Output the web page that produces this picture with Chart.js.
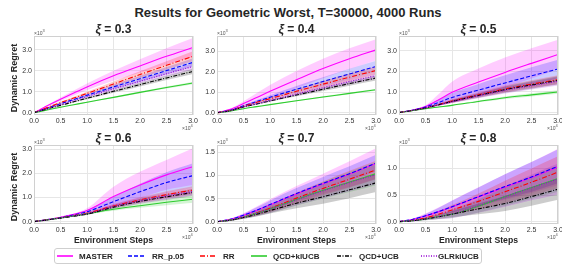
<!DOCTYPE html>
<html>
<head>
<meta charset="utf-8">
<script src="https://cdn.jsdelivr.net/npm/chart.js@4.4.0/dist/chart.umd.min.js"></script>
<style>
  body { margin: 0; width: 562px; height: 269px; background: #fff; position: relative; overflow: hidden;
         font-family: "Liberation Sans", Arial, sans-serif; color: #262626; }
  canvas { position: absolute; }
  .txt { position: absolute; white-space: nowrap; line-height: 1; }
  .c { transform: translate(-50%, -50%); }
  .title { font-size: 13px; font-weight: bold; }
  .sub { font-size: 12px; font-weight: bold; }
  .lab { font-size: 8.7px; font-weight: bold; }
  .ylab { font-size: 9px; font-weight: bold; transform: translate(-50%, -50%) rotate(-90deg); }
  .mult { font-size: 5px; color: #555; }
  #legend { position: absolute; left: 54px; top: 248px; width: 426px; height: 14px;
            border: 1px solid #cfcfcf; border-radius: 3px; background: #fff; }
  .lg { position: absolute; font-size: 8px; font-weight: bold; top: 256px; transform: translateY(-50%); white-space: nowrap; }
  .ls { position: absolute; top: 253px; }
</style>
</head>
<body>
<div class="txt c title" style="left:288px;top:12px">Results for Geometric Worst, T=30000, 4000 Runs</div>
<div id="legend"></div>
<script>
// x positions of the samples (environment steps)
const steps = [0, 2500, 5000, 7500, 10000, 15000, 20000, 25000, 30000];
const xTicks = [0, 5000, 10000, 15000, 20000, 25000, 30000];

const seriesNames = ['MASTER', 'RR_p.05', 'RR', 'QCD+klUCB', 'QCD+UCB', 'GLRklUCB'];
const xiValues = ['0.3', '0.4', '0.5', '0.6', '0.7', '0.8'];

// mean dynamic regret per series, and half width of the shaded band
const mean03 = [
  [0, 330, 640, 940, 1230, 1760, 2230, 2690, 3110],
  [0, 220, 430, 630, 830, 1230, 1620, 2010, 2400],
  [0, 250, 480, 700, 920, 1370, 1820, 2260, 2690],
  [0, 130, 260, 380, 500, 730, 970, 1200, 1420],
  [0, 180, 350, 520, 690, 1020, 1340, 1660, 1970],
  [0, 200, 390, 580, 770, 1140, 1500, 1860, 2210]
];
const band03 = [
  [0, 40, 80, 120, 160, 240, 320, 390, 450],
  [0, 15, 30, 50, 70, 100, 140, 170, 200],
  [0, 20, 40, 60, 80, 120, 160, 200, 240],
  [0, 5, 10, 15, 20, 30, 40, 50, 60],
  [0, 10, 20, 30, 45, 65, 85, 105, 125],
  [0, 12, 25, 38, 50, 75, 100, 125, 150]
];
const mean04 = [
  [0, 170, 450, 750, 1050, 1620, 2170, 2650, 3080],
  [0, 120, 340, 550, 760, 1150, 1530, 1900, 2270],
  [0, 110, 320, 510, 690, 1050, 1400, 1740, 2070],
  [0, 80, 200, 300, 400, 590, 770, 950, 1130],
  [0, 100, 280, 430, 580, 870, 1150, 1430, 1700],
  [0, 100, 290, 450, 610, 920, 1230, 1530, 1820]
];
const band04 = [
  [0, 30, 110, 220, 310, 420, 480, 510, 520],
  [0, 15, 40, 70, 100, 160, 210, 250, 280],
  [0, 10, 30, 50, 70, 110, 150, 180, 200],
  [0, 4, 8, 12, 18, 26, 35, 44, 52],
  [0, 8, 20, 32, 45, 65, 85, 105, 120],
  [0, 10, 25, 40, 55, 80, 105, 130, 150]
];
const mean05 = [
  [0, 110, 290, 620, 980, 1480, 1950, 2390, 2820],
  [0, 110, 270, 490, 730, 1090, 1440, 1780, 2120],
  [0, 100, 220, 390, 560, 860, 1150, 1380, 1600],
  [0, 90, 190, 270, 350, 540, 720, 860, 1000],
  [0, 100, 220, 380, 540, 830, 1110, 1340, 1560],
  [0, 100, 220, 375, 530, 810, 1080, 1300, 1520]
];
const band05 = [
  [0, 10, 60, 280, 520, 660, 730, 740, 720],
  [0, 10, 40, 140, 220, 300, 370, 420, 450],
  [0, 8, 20, 50, 80, 120, 160, 190, 210],
  [0, 5, 10, 20, 30, 45, 60, 75, 85],
  [0, 8, 20, 45, 70, 110, 150, 180, 200],
  [0, 8, 20, 45, 70, 110, 150, 180, 200]
];
const mean06 = [
  [0, 80, 180, 300, 460, 1040, 1520, 1940, 2280],
  [0, 80, 170, 280, 410, 830, 1240, 1620, 1910],
  [0, 75, 160, 250, 350, 650, 900, 1120, 1310],
  [0, 70, 150, 230, 320, 510, 660, 800, 930],
  [0, 70, 145, 225, 310, 600, 840, 1030, 1210],
  [0, 72, 150, 235, 330, 630, 870, 1070, 1250]
];
const band06 = [
  [0, 5, 15, 30, 90, 410, 550, 620, 760],
  [0, 5, 15, 30, 70, 200, 330, 430, 510],
  [0, 5, 12, 25, 40, 80, 110, 140, 160],
  [0, 5, 12, 20, 30, 60, 90, 120, 150],
  [0, 5, 12, 22, 35, 70, 100, 130, 150],
  [0, 5, 12, 25, 40, 80, 110, 140, 160]
];
const mean07 = [
  [0, 50, 140, 250, 365, 600, 820, 1030, 1260],
  [0, 50, 140, 250, 370, 610, 830, 1040, 1270],
  [0, 35, 100, 190, 290, 510, 720, 920, 1120],
  [0, 33, 95, 180, 270, 480, 680, 860, 1040],
  [0, 30, 90, 160, 240, 400, 540, 690, 840],
  [0, 33, 95, 180, 270, 475, 670, 850, 1020]
];
const band07 = [
  [0, 15, 45, 80, 120, 170, 220, 280, 330],
  [0, 10, 30, 60, 90, 120, 140, 160, 180],
  [0, 10, 30, 55, 80, 120, 150, 180, 200],
  [0, 10, 30, 55, 80, 130, 180, 220, 250],
  [0, 10, 25, 45, 65, 110, 150, 180, 200],
  [0, 10, 30, 55, 80, 120, 160, 190, 210]
];
const mean08 = [
  [0, 40, 108, 188, 275, 465, 650, 830, 1030],
  [0, 40, 110, 190, 280, 470, 660, 840, 1040],
  [0, 25, 70, 140, 220, 380, 560, 740, 930],
  [0, 15, 50, 95, 140, 290, 470, 640, 810],
  [0, 15, 50, 90, 140, 240, 340, 470, 610],
  [0, 15, 50, 95, 145, 295, 470, 640, 800]
];
const band08 = [
  [0, 15, 45, 80, 120, 180, 240, 290, 340],
  [0, 10, 35, 70, 110, 170, 230, 280, 320],
  [0, 10, 30, 55, 90, 150, 210, 260, 300],
  [0, 8, 25, 45, 70, 120, 170, 210, 250],
  [0, 8, 20, 40, 60, 100, 140, 170, 200],
  [0, 8, 25, 50, 80, 130, 190, 240, 290]
];

// y axis limits and ticks for each panel
const yLimits = [[-110, 3660], [-110, 3760], [-120, 3720], [-100, 3180], [-50, 1660], [-45, 1440]];
const yTicksBig = [0, 1000, 2000, 3000];
const yTicks07 = [0, 500, 1000, 1500];
const yTicks08 = [0, 500, 1000];

const means = [mean03, mean04, mean05, mean06, mean07, mean08];
const bands = [band03, band04, band05, band06, band07, band08];
const yTicks = [yTicksBig, yTicksBig, yTicksBig, yTicksBig, yTicks07, yTicks08];

const lineColors = ['#ff00ff', '#0000ff', '#ff0000', '#2ecc2e', '#000000', '#9400d3'];
const bandColors = ['rgba(255,0,255,0.2)', 'rgba(0,0,255,0.2)', 'rgba(255,0,0,0.2)',
                    'rgba(46,204,46,0.2)', 'rgba(0,0,0,0.2)', 'rgba(148,0,211,0.2)'];
const dashes = [[], [4, 2], [5, 2, 1, 2], [], [4, 1.5, 1, 1.5], [1, 1.5]];

Chart.defaults.font.family = '"Liberation Sans", Arial, sans-serif';

const cols = [{ left: 0, width: 200 }, { left: 183, width: 200 }, { left: 365, width: 197 }];
const rows = [30, 139];
const yAxisW = 34, plotW = 159, plotH = 79, padTop = 6, xAxisH = 13;

const frame = {
  id: 'frame',
  afterDatasetsDraw(chart) {
    const a = chart.chartArea, ctx = chart.ctx;
    ctx.save();
    ctx.strokeStyle = '#d0d0d0';
    ctx.lineWidth = 1;
    ctx.strokeRect(Math.round(a.left) + 0.5, Math.round(a.top) + 0.5,
                   Math.round(a.right - a.left) - 1, Math.round(a.bottom - a.top) - 1);
    ctx.restore();
  }
};

function addText(cls, html, style) {
  const d = document.createElement('div');
  d.className = 'txt ' + cls;
  d.innerHTML = html;
  d.setAttribute('style', style);
  document.body.appendChild(d);
}

function makePanel(p) {
  const col = cols[p % 3], top = rows[Math.floor(p / 3)];
  const canvas = document.createElement('canvas');
  canvas.width = col.width;
  canvas.height = padTop + plotH + xAxisH;
  canvas.style.left = col.left + 'px';
  canvas.style.top = top + 'px';
  document.body.appendChild(canvas);

  const datasets = [];
  seriesNames.forEach((name, i) => {
    datasets.push({
      label: name,
      data: steps.map((x, k) => ({ x, y: means[p][i][k] })),
      borderColor: lineColors[i], borderWidth: 1.1, borderDash: dashes[i],
      pointRadius: 0, fill: false, cubicInterpolationMode: 'monotone', order: 10 - i
    });
  });
  seriesNames.forEach((name, i) => {
    datasets.push({
      data: steps.map((x, k) => ({ x, y: means[p][i][k] + bands[p][i][k] })),
      borderWidth: 0, borderColor: 'transparent', backgroundColor: bandColors[i],
      pointRadius: 0, fill: '+1', cubicInterpolationMode: 'monotone', order: 30 - i
    });
    datasets.push({
      data: steps.map((x, k) => ({ x, y: means[p][i][k] - bands[p][i][k] })),
      borderWidth: 0, borderColor: 'transparent',
      pointRadius: 0, fill: false, cubicInterpolationMode: 'monotone', order: 30 - i
    });
  });

  new Chart(canvas, {
    type: 'line',
    data: { datasets },
    options: {
      responsive: false, animation: false,
      layout: { padding: { left: 0, top: padTop, bottom: 0, right: col.width - yAxisW - plotW } },
      plugins: { legend: { display: false }, tooltip: { enabled: false } },
      scales: {
        x: {
          type: 'linear', min: 0, max: 30000,
          afterBuildTicks: s => { s.ticks = xTicks.map(v => ({ value: v })); },
          afterFit: s => { s.height = xAxisH; s.paddingLeft = 0; s.paddingRight = 0; },
          ticks: { callback: v => (v / 10000).toFixed(1), font: { size: 7 }, color: '#333',
                   padding: 2, maxRotation: 0, autoSkip: false },
          grid: { color: '#e6e6e6', drawTicks: false },
          border: { display: false }
        },
        y: {
          type: 'linear', min: yLimits[p][0], max: yLimits[p][1],
          afterBuildTicks: s => { s.ticks = yTicks[p].map(v => ({ value: v })); },
          afterFit: s => { s.width = yAxisW; s.paddingTop = 0; s.paddingBottom = 0; },
          ticks: { callback: v => (v / 1000).toFixed(1), font: { size: 7 }, color: '#333', padding: 2 },
          grid: { color: '#e6e6e6', drawTicks: false },
          border: { display: false }
        }
      }
    },
    plugins: [frame]
  });

  const pl = col.left + yAxisW, pr = pl + plotW, pt = top + padTop, pb = pt + plotH;
  const cx = (pl + pr) / 2;
  addText('c sub', '<i>ξ</i> = ' + xiValues[p], `left:${cx}px;top:${pt - 7}px`);
  addText('mult', '×10<sup style="font-size:4px">3</sup>', `left:${pl}px;top:${pt - 7}px`);
  addText('mult', '×10<sup style="font-size:4px">4</sup>', `left:${pr - 11}px;top:${pb + 9}px`);
  if (p % 3 === 0) addText('ylab', 'Dynamic Regret', `left:14px;top:${(pt + pb) / 2 + 2}px`);
  if (p >= 3) addText('c lab', 'Environment Steps', `left:${cx}px;top:240px`);
}

for (let p = 0; p < 6; p++) makePanel(p);

// shared legend
const sampleX = [57, 128, 200, 251, 337, 421];
const textX = [79, 152, 223, 273, 359, 438];
seriesNames.forEach((name, i) => {
  const svg = `<svg class="ls" style="left:${sampleX[i]}px" width="16" height="6">
    <line x1="0" y1="3" x2="16" y2="3" stroke="${lineColors[i]}" stroke-width="1.6"
      stroke-dasharray="${dashes[i].join(' ')}"/></svg>`;
  document.body.insertAdjacentHTML('beforeend', svg);
  const t = document.createElement('div');
  t.className = 'lg';
  t.style.left = textX[i] + 'px';
  t.textContent = name;
  document.body.appendChild(t);
});
</script>
</body>
</html>
